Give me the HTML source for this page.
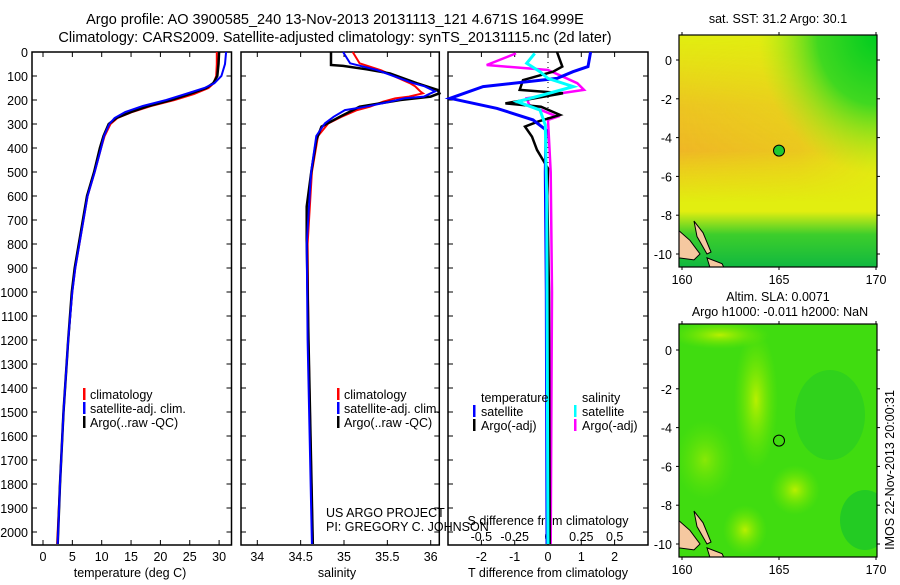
<!DOCTYPE html>
<html><head><meta charset="utf-8"><style>
body{margin:0;background:#fff}
svg text{font-family:"Liberation Sans",sans-serif;font-size:12.5px;fill:#000}
svg text.ttl{font-size:14.5px}
</style></head><body>
<svg id="fig" width="900" height="580" viewBox="0 0 900 580" xmlns="http://www.w3.org/2000/svg">
<rect width="900" height="580" fill="#fff"/>
<text class="ttl" x="335" y="24" text-anchor="middle">Argo profile: AO 3900585_240 13-Nov-2013 20131113_121 4.671S 164.999E</text>
<text class="ttl" x="335" y="42" text-anchor="middle">Climatology: CARS2009. Satellite-adjusted climatology: synTS_20131115.nc (2d later)</text>
<g id="maps"></g>
<g id="plots"></g>
</svg>
<script>
// ---- data ----
const tDepth=[0,50,100,130,150,175,200,225,250,275,300,350,400,500,600,700,800,900,1000,1200,1500,1800,2050];
const tArgo=[30.0,29.9,29.7,29.0,27.8,25.0,21.8,18.0,15.0,12.5,11.2,10.3,9.7,8.7,7.5,6.8,6.1,5.4,4.9,4.3,3.5,2.9,2.5];
const tClim=[29.6,29.6,29.5,29.1,28.2,25.7,22.4,18.4,15.2,12.7,11.5,10.5,9.9,8.8,7.6,6.9,6.2,5.5,5.0,4.3,3.5,2.9,2.4];
const tSat=[31.2,31.0,30.4,29.2,27.5,24.3,21.0,17.0,14.0,12.2,11.3,10.4,9.9,8.8,7.6,6.9,6.2,5.5,5.0,4.3,3.5,2.9,2.5];
const sArgoD=[0,54,58,72,89,130,158,172,186,200,228,270,311,367,505,644,783,1200,2050];
const sArgo=[34.85,34.85,34.99,35.26,35.53,35.84,36.08,36.1,36.0,35.65,35.18,34.95,34.74,34.68,34.62,34.57,34.57,34.59,34.64];
const sD=[0,47,75,103,130,143,164,172,186,193,207,228,242,270,297,350,500,800,1200,2050];
const sClim=[35.1,35.18,35.42,35.59,35.76,35.82,35.88,35.91,35.75,35.59,35.45,35.3,35.15,34.97,34.82,34.7,34.63,34.58,34.59,34.64];
const sSat=[34.99,35.07,35.38,35.59,35.8,35.93,36.05,36.0,35.92,35.7,35.53,35.25,35.01,34.88,34.78,34.68,34.62,34.57,34.58,34.63];
const dtSatD=[0,61,82,110,144,193,235,283,325,500,1000,2050];
const dtSat=[1.28,1.2,0.75,0.27,-1.95,-2.94,-1.53,-0.45,-0.06,-0.08,-0.05,-0.03];
const dtArgoD=[0,61,82,117,158,172,214,228,262,290,311,353,408,485,600,1000,2050];
const dtArgo=[0.27,0.43,0.15,-0.75,-0.85,0.45,-1.28,-0.21,0.36,-0.3,-0.69,-0.48,-0.33,0,-0.02,0.03,0.05];
const dsArgoD=[6,54,75,130,158,193,221,270,283,500,1000,2050];
const dsArgo=[-0.24,-0.46,0,0.22,0.27,-0.16,-0.14,0.07,0,0.02,0.03,0.02];
const dsSatD=[6,47,82,110,144,179,207,242,304,600,2050];
const dsSat=[-0.1,-0.16,-0.06,0,0.19,-0.04,-0.23,-0.06,-0.02,-0.01,0];
const depthTicks=[0,100,200,300,400,500,600,700,800,900,1000,1100,1200,1300,1400,1500,1600,1700,1800,1900,2000];
const tTicks=[0,5,10,15,20,25,30];
const sTicks=[34,34.5,35,35.5,36];
const dtTicks=[-2,-1,0,1,2];
const dsTicks=[-0.5,-0.25,0,0.25,0.5];
const dsTickLabels=["-0.5","-0.25","0","0.25","0.5"];
// ---- axes ----
const NS="http://www.w3.org/2000/svg";
const yD=d=>52+0.24*d;
const xT=v=>43+5.87*v;
const xS=v=>257.3+86.7*(v-34);
const xDT=v=>548+33.3*v;
const xDS=v=>548+133.3*v;
const plots=document.getElementById('plots');
function mk(tag,at,parent){const e=document.createElementNS(NS,tag);for(const k in at)e.setAttribute(k,at[k]);(parent||plots).appendChild(e);return e;}
function txt(x,y,s,anchor){const e=mk('text',{x:x,y:y,'text-anchor':anchor||'start'});e.textContent=s;return e;}
function frame(x0,x1,name){
 const r=mk('rect',{x:x0,y:52,width:x1-x0,height:493,fill:'none',stroke:'#000','stroke-width':1.5});
 
 
 depthTicks.forEach(d=>{mk('line',{x1:x0,x2:x0+5,y1:yD(d),y2:yD(d),stroke:'#000'});mk('line',{x1:x1,x2:x1-5,y1:yD(d),y2:yD(d),stroke:'#000'});});
}
function line(xs,ds,fx,color,w,name){
 const pts=xs.map((v,i)=>fx(v).toFixed(1)+','+yD(ds[i]).toFixed(1)).join(' ');
 const p=mk('polyline',{points:pts,fill:'none',stroke:color,'stroke-width':w,'stroke-linejoin':'miter'});
 
 
}
// panel 1
frame(32,231.5,'temperature-panel');
depthTicks.forEach(d=>{const t=txt(28,yD(d)+5,String(d),'end');});
tTicks.forEach(v=>{mk('line',{x1:xT(v),x2:xT(v),y1:52,y2:57,stroke:'#000'});mk('line',{x1:xT(v),x2:xT(v),y1:545,y2:540,stroke:'#000'});const t=txt(xT(v),561,String(v),'middle');});
let t1=txt(130,577,'temperature (deg C)','middle');
line(tClim,tDepth,xT,'#f00',2,'temperature-climatology-line');
line(tArgo,tDepth,xT,'#000',2.5,'temperature-argo-line');
line(tSat,tDepth,xT,'#00f',2,'temperature-satellite-line');
// panel 2
frame(241,439.3,'salinity-panel');
sTicks.forEach(v=>{mk('line',{x1:xS(v),x2:xS(v),y1:52,y2:57,stroke:'#000'});mk('line',{x1:xS(v),x2:xS(v),y1:545,y2:540,stroke:'#000'});const t=txt(xS(v),561,String(v),'middle');});
let t2=txt(337,577,'salinity','middle');
line(sClim,sD,xS,'#f00',2,'salinity-climatology-line');
line(sArgo,sArgoD,xS,'#000',2.5,'salinity-argo-line');
line(sSat,sD,xS,'#00f',2,'salinity-satellite-line');
// legends panels 1 & 2
function legend(x,entries,prefix){entries.forEach((e,i)=>{const y=398+i*14;mk('rect',{x:x,y:y-10,width:2.5,height:12,fill:e[0]});const t=txt(x+7,y+1,e[1]);});}
legend(83,[['#f00','climatology'],['#00f','satellite-adj. clim.'],['#000','Argo(..raw -QC)']],'temperature');
legend(337,[['#f00','climatology'],['#00f','satellite-adj. clim.'],['#000','Argo(..raw -QC)']],'salinity');
let c1=txt(326,517,'US ARGO PROJECT');
let c2=txt(326,531,'PI: GREGORY C. JOHNSON');
// panel 3
frame(448,648,'difference-panel');
mk('line',{x1:548,x2:548,y1:52,y2:545,stroke:'#000','stroke-dasharray':'1,4'});
dtTicks.forEach(v=>{mk('line',{x1:xDT(v),x2:xDT(v),y1:52,y2:57,stroke:'#000'});mk('line',{x1:xDT(v),x2:xDT(v),y1:545,y2:540,stroke:'#000'});const t=txt(xDT(v),561,String(v),'middle');});
dsTicks.forEach((v,i)=>{const t=txt(xDS(v),541,dsTickLabels[i],'middle');});
let t3=txt(548,525,'S difference from climatology','middle');
let t4=txt(548,577,'T difference from climatology','middle');
line(dsArgo,dsArgoD,xDS,'#f0f',2.5,'salinity-diff-argo-line');
line(dtArgo,dtArgoD,xDT,'#000',2.5,'temperature-diff-argo-line');
line(dtSat,dtSatD,xDT,'#00f',3,'temperature-diff-satellite-line');
line(dsSat,dsSatD,xDS,'#0ff',3,'salinity-diff-satellite-line');
txt(481,402,'temperature');txt(582,402,'salinity');
[['#00f','satellite',473,415],['#000','Argo(-adj)',473,429],['#0ff','satellite',574,415],['#f0f','Argo(-adj)',574,429]].forEach(e=>{mk('rect',{x:e[2],y:e[3]-10,width:2.5,height:12,fill:e[0]});const t=txt(e[2]+8,e[3]+1,e[1]);});
// ---- maps ----
const maps=document.getElementById('maps');
const latTicks=[0,-2,-4,-6,-8,-10];
const lonTicks=[160,165,170];
const defs=mk('defs',{},maps);
defs.innerHTML=`<radialGradient id="gNE" cx="1" cy="0" r="0.6"><stop offset="0" stop-color="#00cc20"/><stop offset="0.5" stop-color="#40d820"/><stop offset="1" stop-color="#a0e818" stop-opacity="0"/></radialGradient>
<linearGradient id="gBand" x1="0" y1="0" x2="0" y2="1"><stop offset="0" stop-color="#f0c020" stop-opacity="0"/><stop offset="0.3" stop-color="#f0b428" stop-opacity="0.7"/><stop offset="0.5" stop-color="#f0b028" stop-opacity="0.9"/><stop offset="0.62" stop-color="#f0c020" stop-opacity="0.5"/><stop offset="0.72" stop-color="#f0c020" stop-opacity="0"/></linearGradient>
<linearGradient id="gBandX" x1="0" y1="0" x2="1" y2="0"><stop offset="0" stop-color="#fff" stop-opacity="1"/><stop offset="0.6" stop-color="#fff" stop-opacity="0.7"/><stop offset="1" stop-color="#fff" stop-opacity="0.1"/></linearGradient>
<mask id="mBand"><rect x="679" y="35" width="198" height="232" fill="url(#gBandX)"/></mask>
<linearGradient id="gS" x1="0" y1="0" x2="0" y2="1"><stop offset="0" stop-color="#20c830" stop-opacity="0"/><stop offset="0.76" stop-color="#20c830" stop-opacity="0"/><stop offset="0.86" stop-color="#20c830" stop-opacity="0.85"/><stop offset="1" stop-color="#10b840" stop-opacity="1"/></linearGradient>
<radialGradient id="gY1" cx="0.5" cy="0.5" r="0.5"><stop offset="0" stop-color="#b8f000"/><stop offset="1" stop-color="#70e800" stop-opacity="0"/></radialGradient>
<clipPath id="c1"><rect x="679" y="35" width="198" height="232"/></clipPath>
<clipPath id="c2"><rect x="679" y="324" width="198" height="233"/></clipPath>`;
function mapFrame(top,bottom,lat0y,name,clip,fills){
 const g=mk('g',{},maps);
 
 
 const sc=19.4;
 const ly=v=>lat0y-sc*v;
 const inner=mk('g',{'clip-path':'url(#'+clip+')'},g);
 fills.forEach(f=>mk(f[0],f[1],inner));
 mk('path',{d:`M679,${ly(-8.8)} L690,${ly(-9.3)} L700,${ly(-10.0)} L694,${ly(-10.3)} L679,${ly(-10.2)} Z`,fill:'#f5c8a0',stroke:'#000','stroke-width':1},inner);
 mk('path',{d:`M694,${ly(-8.3)} L703,${ly(-8.9)} L711,${ly(-9.9)} L707,${ly(-10.0)} L697,${ly(-9.1)} Z`,fill:'#f5c8a0',stroke:'#000','stroke-width':1},inner);
 mk('path',{d:`M707,${ly(-10.2)} L722,${ly(-10.5)} L724,${ly(-10.7)} L710,${ly(-10.7)} Z`,fill:'#f5c8a0',stroke:'#000','stroke-width':1},inner);
 mk('rect',{x:679,y:top,width:198,height:bottom-top,fill:'none',stroke:'#000','stroke-width':1.2},g);
 latTicks.forEach(v=>{mk('line',{x1:676,x2:679,y1:ly(v),y2:ly(v),stroke:'#000'},g);mk('line',{x1:877,x2:880,y1:ly(v),y2:ly(v),stroke:'#000'},g);const t=txt(672,ly(v)+5,String(v),'end');g.appendChild(t);});
 lonTicks.forEach(v=>{const x=682+19.4*(v-160);mk('line',{x1:x,x2:x,y1:top-3,y2:top,stroke:'#000'},g);mk('line',{x1:x,x2:x,y1:bottom,y2:bottom+3,stroke:'#000'},g);const t=txt(x,bottom+17,String(v),'middle');g.appendChild(t);});
 return {g,cx:682+19.4*5,cy:ly(-4.671)};
}
const m1=mapFrame(35,267,60,'sst-map','c1',[
 ['rect',{x:679,y:35,width:198,height:232,fill:'#e2ee10'}],
 ['rect',{x:679,y:35,width:198,height:232,fill:'url(#gBand)',mask:'url(#mBand)'}],
 ['rect',{x:679,y:35,width:198,height:232,fill:'url(#gNE)'}],
 ['rect',{x:679,y:35,width:198,height:232,fill:'url(#gS)'}]
]);
mk('circle',{cx:m1.cx,cy:m1.cy,r:5.5,fill:'#20c830',stroke:'#000','stroke-width':1},m1.g);
let mt1=txt(778,23,'sat. SST: 31.2 Argo: 30.1','middle');
const m2=mapFrame(324,557,350,'sla-map','c2',[
 ['rect',{x:679,y:324,width:198,height:233,fill:'#40dc10'}],
 ['ellipse',{cx:720,cy:335,rx:50,ry:14,fill:'url(#gY1)'}],
 ['ellipse',{cx:756,cy:400,rx:22,ry:70,fill:'url(#gY1)'}],
 ['ellipse',{cx:795,cy:490,rx:25,ry:25,fill:'url(#gY1)'}],
 ['ellipse',{cx:745,cy:530,rx:22,ry:25,fill:'url(#gY1)'}],
 ['ellipse',{cx:705,cy:460,rx:30,ry:40,fill:'url(#gY1)',opacity:0.6}],
 ['ellipse',{cx:830,cy:415,rx:35,ry:45,fill:'#20c828',opacity:0.5}],
 ['ellipse',{cx:865,cy:520,rx:25,ry:30,fill:'#10c030',opacity:0.6}]
]);
mk('circle',{cx:m2.cx,cy:m2.cy,r:5.5,fill:'none',stroke:'#000','stroke-width':1},m2.g);
let mt2=txt(778,301,'Altim. SLA: 0.0071','middle');
let mt3=txt(780,316,'Argo h1000: -0.011 h2000: NaN','middle');
let st=mk('text',{x:0,y:0,transform:'translate(894,470) rotate(-90)','text-anchor':'middle'},maps);
st.textContent='IMOS 22-Nov-2013 20:00:31';


</script>
</body></html>
